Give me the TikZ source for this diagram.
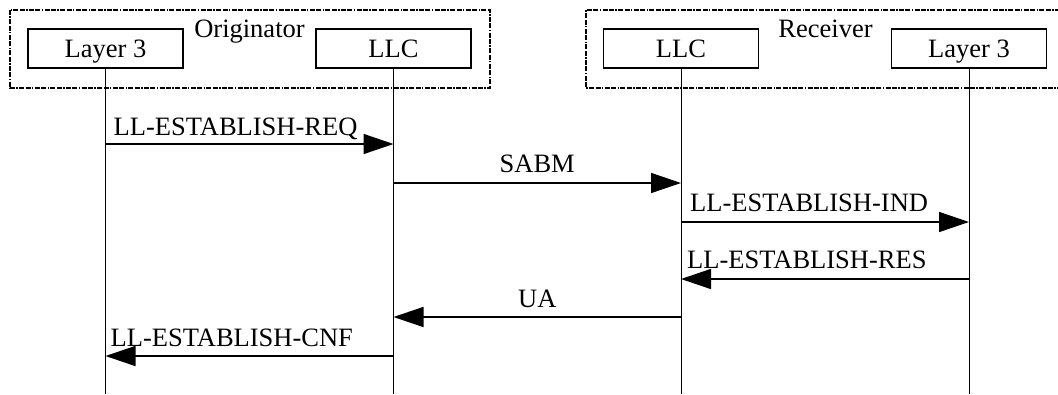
\documentclass[tikz,border=0pt]{standalone}
\usepackage{fontspec}
\setmainfont{Liberation Serif}
\usetikzlibrary{arrows.meta,calc}
\begin{document}
\begin{tikzpicture}[x=1pt,y=-1pt,
  every node/.style={font=\fontsize{26.5}{30}\selectfont},
  entity/.style={draw,line width=1.5pt,minimum width=155pt,minimum height=39pt,inner sep=0pt,text height=23pt,text depth=6pt},
  frame/.style={line width=1.6pt,dash pattern=on 5pt off 1.4pt on 1.4pt off 1.4pt on 5pt off 1.4pt},
  lifeline/.style={line width=0.8pt},
  msg/.style={line width=1.5pt,-{Triangle[length=30pt,width=20pt]}},
  lbl/.style={inner sep=0pt,anchor=base west},
  clbl/.style={inner sep=0pt,anchor=base}]
\useasboundingbox (0,0) rectangle (1058,394);
% frames
\draw[frame] (10,10) rectangle (490,88);
\draw[frame] (1060,10) -- (586,10) -- (586,88) -- (1060,88);
\node[clbl] (orig) at (249.5,37) {Originator};
\node[clbl] (recv) at (825.5,37) {Receiver};
% entities
\node[entity] (L3a) at (105.5,48.5) {Layer 3};
\node[entity] (LLCa) at (393.5,48.5) {LLC};
\node[entity] (LLCb) at (681,48.5) {LLC};
\node[entity] (L3b) at (969,48.5) {Layer 3};
% lifeline ends
\coordinate (eA) at (L3a.south |- 0,394);
\coordinate (eB) at (LLCa.south |- 0,394);
\coordinate (eC) at (LLCb.south |- 0,394);
\coordinate (eD) at (L3b.south |- 0,394);
\draw[lifeline] (L3a.south) -- (eA);
\draw[lifeline] (LLCa.south) -- (eB);
\draw[lifeline] (LLCb.south) -- (eC);
\draw[lifeline] (L3b.south) -- (eD);
% message points
\coordinate (a1) at (L3a.south |- 0,144);  \coordinate (b1) at (LLCa.south |- 0,144);
\coordinate (b2) at (LLCa.south |- 0,183); \coordinate (c2) at (LLCb.south |- 0,183);
\coordinate (c3) at (LLCb.south |- 0,222); \coordinate (d3) at (L3b.south |- 0,222);
\coordinate (d4) at (L3b.south |- 0,279);  \coordinate (c4) at (LLCb.south |- 0,279);
\coordinate (c5) at (LLCb.south |- 0,317); \coordinate (b5) at (LLCa.south |- 0,317);
\coordinate (b6) at (LLCa.south |- 0,356); \coordinate (a6) at (L3a.south |- 0,356);
% messages
\draw[msg] (a1) -- (b1);
\node[lbl] (t1) at ([xshift=8pt,yshift=9pt]a1) {LL-ESTABLISH-REQ};
\draw[msg] (b2) -- (c2);
\node[clbl] (t2) at ($(b2)!0.5!(c2)+(0,-11)$) {SABM};
\draw[msg] (c3) -- (d3);
\node[lbl] (t3) at ([xshift=9pt,yshift=11pt]c3) {LL-ESTABLISH-IND};
\draw[msg] (d4) -- (c4);
\node[lbl] (t4) at ([xshift=6pt,yshift=11pt]c4) {LL-ESTABLISH-RES};
\draw[msg] (c5) -- (b5);
\node[clbl] (t5) at ($(b5)!0.5!(c5)+(0,-10)$) {UA};
\draw[msg] (b6) -- (a6);
\node[lbl] (t6) at ([xshift=5pt,yshift=10pt]a6) {LL-ESTABLISH-CNF};
\end{tikzpicture}
\end{document}
